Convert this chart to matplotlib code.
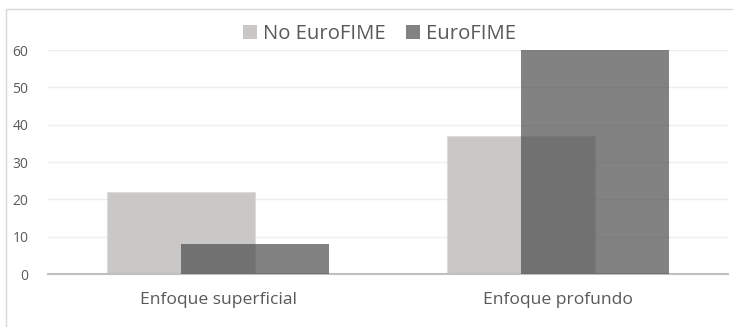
import matplotlib
matplotlib.use("Agg")
import matplotlib.pyplot as plt
from matplotlib.patches import Rectangle
import numpy as np

categories = ["Enfoque superficial", "Enfoque profundo"]
series_names = ["No EuroFIME", "EuroFIME"]
no_eurofime = [22, 37]
eurofime = [8, 60]
yticks = [0, 10, 20, 30, 40, 50, 60]

plt.rcParams['font.family'] = ['Open Sans', 'DejaVu Sans']

W, H = 733, 327
fig = plt.figure(figsize=(W / 100, H / 100), dpi=100)
fig.patches.append(Rectangle((6 / W, -0.1), 1.2, (H - 9) / H + 0.1, transform=fig.transFigure,
                             fill=False, edgecolor='#d9d9d9', linewidth=1.0))

ax = fig.add_axes([48 / W, 53 / H, (728 - 48) / W, (274 - 50) / H])
x = np.arange(len(categories))
bw = 0.435
off = bw / 4
ax.bar(x - off, no_eurofime, width=bw, color='#c9c8c7', edgecolor='#dcdcdc', linewidth=0.8,
       label=series_names[0], zorder=2)
ax.bar(x + off, eurofime, width=bw, color='#4d4d4d', alpha=0.7, edgecolor='none',
       label=series_names[1], zorder=3)

ax.set_xlim(-0.5, 1.5)
ax.set_ylim(0, 60)
ax.set_yticks(yticks)
ax.set_xticks(x)
ax.set_xticklabels(categories, fontsize=12.6, color='#595959')
ax.tick_params(axis='y', labelsize=10, labelcolor='#595959', length=0, pad=14)
ax.tick_params(axis='x', length=0, pad=13)
ax.grid(axis='y', color='#eeeeee', linewidth=1.0, zorder=0)
ax.set_axisbelow(True)
for s in ['top', 'right', 'left']:
    ax.spines[s].set_visible(False)
ax.spines['bottom'].set_color('#bfbfbf')
ax.spines['bottom'].set_linewidth(1.5)

leg = fig.legend(loc='center', bbox_to_anchor=(379.5 / W, 1 - 34 / H), ncol=2, frameon=False,
                 fontsize=14.6, handlelength=0.7, handleheight=0.7, handletextpad=0.3,
                 columnspacing=1.0, labelcolor='#595959')
for h in leg.legend_handles:
    h.set_edgecolor('none')

fig.savefig("out.png", dpi=100)
